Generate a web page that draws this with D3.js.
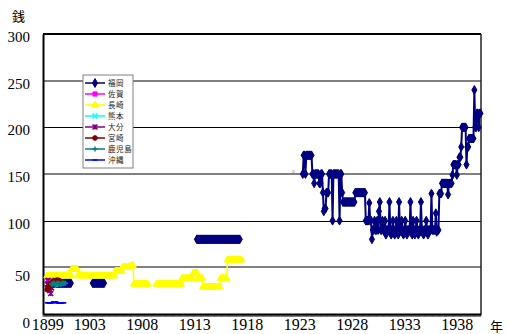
<!DOCTYPE html>
<html><head><meta charset="utf-8">
<script src="https://cdn.jsdelivr.net/npm/d3@7"></script>
<style>body{margin:0;background:#fff} svg{display:block}</style>
</head><body><svg id="chart" width="508" height="334"></svg>
<script>
// Axis ticks
const yTicks = [0, 50, 100, 150, 200, 250, 300];
const xTickYears = [1899, 1903, 1908, 1913, 1918, 1923, 1928, 1933, 1938];
const prefectures = ["福岡", "佐賀", "長崎", "熊本", "大分", "宮崎", "鹿児島", "沖縄"];

// Monthly prices (銭); each segment starts at "YYYY-MM" and runs month by month
const fukuoka = [
  {start: "1899-05", values: [33,33,32,33,33,34,33,33,33,33,33,33,33,33,33,33,33,33,33,33,33,33,33,33]},
  {start: "1903-05", values: [33,33,33,33,33,33,33,33,33,33,33,33,33,33]},
  {start: "1913-04", values: [80,80,80,80,80,80,80,80,80,80,80,80,80,80,80,80,80,80,80,80,80,80,80,80,80,
                              80,80,80,80,80,80,80,80,80,80,80,80,80,80,80,80,80,80,80,80,80,80,80,80,80]},
  {start: "1923-05", values: [
    150,170,170,150,170,170,170,170,                 // 1923 (May-Dec)
    170,170,170,150,150,140,150,150,150,150,150,140, // 1924
    140,150,150,130,110,113,113,130,130,130,150,150, // 1925
    150,150,100,150,150,150,150,150,150,150,100,150, // 1926
    150,130,120,120,120,120,120,120,120,120,120,120, // 1927
    120,120,120,120,130,130,130,130,130,130,130,130, // 1928
    130,130,130,130,100,100,100,100,119,100,100,80,  // 1929
    90,90,100,90,90,100,90,110,120,90,90,100,        // 1930
    90,90,100,85,90,90,90,120,90,85,90,100,          // 1931
    90,85,90,100,90,85,120,90,90,100,90,85,          // 1932
    90,100,90,85,90,90,90,120,90,85,100,90,          // 1933
    85,90,100,90,85,90,90,120,90,90,85,90,           // 1934
    90,100,90,85,90,90,90,129,90,90,90,90,           // 1935
    108,88,90,90,129,129,129,140,140,140,140,140,    // 1936
    140,140,128,140,140,140,140,149,160,160,160,160, // 1937
    149,160,160,168,168,179,200,200,200,200,200,160, // 1938
    179,179,188,188,188,188,188,188,240,200,200,215, // 1939
    215,200,215,215]}                                // 1940 (Jan-Apr)
];
const saga = [{start: "1899-01", values: [40,38,36,35,34,33,34,35,36,36,35,34]}];
const nagasaki = [
  {start: "1899-01", values: [
    41,41,41,41,41,41,41,41,41,41,41,41,
    41,41,41,41,41,41,41,41,41,41,41,41,
    41,41,41,41,48,48,48,48,48,48,48,41,
    41,41,41,41,41,41,41,41,41,41,41,41,
    41,41,41,41,41,41,41,41,41,41,41,41,
    41,41,41,41,41,41,41,41,41,41,41,41,
    41,41,41,41,41,41,46,46,46,46,46,46,
    46,46,50,50,50,50,50,50,50,50,51,51,
    51,52,52,32,32,32,32,32,32,32,32,32,
    32,32,32,32,32,32,32,32]},
  {start: "1909-06", values: [
    32,32,32,32,32,32,32,
    32,32,32,32,32,32,32,32,32,32,32,32,
    32,32,32,32,32,32,32,32,32,32,38,38,
    38,38,38,38,38,38,38,38,38,38,38,44,
    44,44,44,44,38,38,38,38,38,38,29,29,
    29,29,29,29,29,29,29,29,29,29,29,29,
    29,29,29,29,29,29,38,38,38,38,38,38,
    38,38,58,58,58,58,58,58,58,58,58,58,
    58,58,58,58,58,58,58]}
];
const kumamoto = [{start: "1899-05", values: [33,33,34,33,33,32,33,33,34,33,33,33,33]}];
const oita = [{start: "1899-01", values: [32,36,30,25,22,28,33,35,34,36,35,34]}];
const miyazaki = [{start: "1899-01", values: [26,28,30,30,32,33,34,34,35,35,36,36,36,36,35,35,34,34]}];
const kagoshima = [{start: "1899-06", values: [32,32,33,33,32,32,33,33,33,32,32,32,33,33,33,33,33]}];
const okinawa = [{start: "1899-01", values: [12,12,12,12,12,12,12,13,13,13,13,12,12,12,12,12,12,12,12,12]}];

const seriesData = [fukuoka, saga, nagasaki, kumamoto, oita, miyazaki, kagoshima, okinawa];
const colors = ["#000080", "#FF00FF", "#FFFF00", "#00FFFF", "#800080", "#800000", "#008080", "#0000FF"];
const markers = ["diamond", "square", "triangle", "x", "star", "circle", "plus", "dash"];

const svg = d3.select("#chart");
const plot = {left: 43, right: 481, top: 34, bottom: 314};

const x = d3.scaleLinear().domain([1898.6, 1940.3]).range([plot.left, plot.right]);
const y = d3.scaleLinear().domain([0, 300]).range([plot.bottom, plot.top]);

const serif = "'Liberation Serif', 'Times New Roman', 'DejaVu Serif', serif";
const cjk = "'Noto Sans CJK JP', 'Noto Sans CJK SC', sans-serif";

// gridlines
svg.append("g").selectAll("line")
  .data(yTicks.filter(v => v > 0 && v < 300))
  .join("line")
  .attr("x1", plot.left).attr("x2", plot.right)
  .attr("y1", d => Math.round(y(d)) + (d % 100 === 0 ? 0.5 : 0))
  .attr("y2", d => Math.round(y(d)) + (d % 100 === 0 ? 0.5 : 0))
  .attr("stroke", d => d % 100 === 0 ? "#000" : "#808080")
  .attr("stroke-width", d => d % 100 === 0 ? 1 : 2);

// plot frame
svg.append("line").attr("x1", plot.left).attr("x2", plot.right).attr("y1", plot.top).attr("y2", plot.top)
  .attr("stroke", "#000").attr("stroke-width", 2);
svg.append("line").attr("x1", plot.right).attr("x2", plot.right).attr("y1", plot.top).attr("y2", plot.bottom)
  .attr("stroke", "#222").attr("stroke-width", 1.5);

// y axis
const yAxis = svg.append("g").attr("transform", `translate(${plot.left},0)`)
  .call(d3.axisLeft(y).tickValues(yTicks).tickSize(0).tickPadding(13));
yAxis.select(".domain").attr("stroke", "#000").attr("stroke-width", 2);
yAxis.selectAll("text")
  .style("font-family", serif).style("font-size", "15px").attr("fill", "#000")
  .attr("dy", d => (d < 100 ? 13.5 : 7.5) + "px");

// x axis: one small tick per month
const monthTicks = d3.range(1898.6, 1940.3, 1 / 12);
svg.append("g").selectAll("line").data(monthTicks).join("line")
  .attr("x1", d => x(d)).attr("x2", d => x(d))
  .attr("y1", plot.bottom).attr("y2", plot.bottom + 3)
  .attr("stroke", "#000").attr("stroke-width", 0.5);
const xAxis = svg.append("g").attr("transform", `translate(0,${plot.bottom})`)
  .call(d3.axisBottom(x).tickValues(xTickYears).tickSize(0).tickPadding(5).tickFormat(d3.format("d")));
xAxis.select(".domain").attr("stroke", "#000").attr("stroke-width", 2);
xAxis.selectAll("text").style("font-family", serif).style("font-size", "16px").attr("fill", "#000");

// unit labels
svg.append("text").attr("x", 12).attr("y", 21).text("銭")
  .style("font-family", cjk).style("font-size", "13px").attr("fill", "#000");
svg.append("text").attr("x", 490).attr("y", 331).text("年")
  .style("font-family", cjk).style("font-size", "13px").attr("fill", "#000");
svg.append("text").attr("x", 292).attr("y", 173).text("a")
  .style("font-family", serif).style("font-size", "6px").attr("fill", "#888");

// markers
function drawMarker(g, type, color, s) {
  if (type === "diamond") g.append("path").attr("d", d3.symbol(d3.symbolDiamond, s * s * 0.9)()).attr("fill", color).attr("stroke", color);
  else if (type === "square") g.append("path").attr("d", d3.symbol(d3.symbolSquare, s * s * 0.7)()).attr("fill", color).attr("stroke", color);
  else if (type === "triangle") g.append("path").attr("d", d3.symbol(d3.symbolTriangle, s * s * 0.8)()).attr("fill", color).attr("stroke", color);
  else if (type === "circle") g.append("path").attr("d", d3.symbol(d3.symbolCircle, s * s * 0.7)()).attr("fill", color).attr("stroke", color);
  else if (type === "x") g.append("path").attr("d", `M${-s/2},${-s/2}L${s/2},${s/2}M${-s/2},${s/2}L${s/2},${-s/2}`).attr("stroke", color).attr("stroke-width", 1.5);
  else if (type === "star") g.append("path").attr("d", `M${-s/2},${-s/2}L${s/2},${s/2}M${-s/2},${s/2}L${s/2},${-s/2}M0,${-s/2}L0,${s/2}`).attr("stroke", color).attr("stroke-width", 1.5);
  else if (type === "plus") g.append("path").attr("d", `M${-s/2},0L${s/2},0M0,${-s/2}L0,${s/2}`).attr("stroke", color).attr("stroke-width", 1.5);
  else if (type === "dash") g.append("path").attr("d", `M${-s/2},0L${s/2},0`).attr("stroke", color).attr("stroke-width", 1.5);
}

function toPoints(segment) {
  const [yr, mo] = segment.start.split("-").map(Number);
  return segment.values.map((v, i) => ({t: yr + (mo - 1 + i) / 12, v}));
}

const line = d3.line().x(d => x(d.t)).y(d => y(d.v));
const marks = svg.append("g");
seriesData.forEach((segments, si) => {
  const g = marks.append("g");
  segments.forEach(seg => {
    const pts = toPoints(seg);
    g.append("path").attr("d", line(pts)).attr("fill", "none")
      .attr("stroke", colors[si]).attr("stroke-width", si === 0 ? 2 : 1.5);
    pts.forEach(p => {
      const mg = g.append("g").attr("transform", `translate(${x(p.t)},${y(p.v)})`);
      drawMarker(mg, markers[si], colors[si], 5);
    });
  });
});

// legend
const lg = svg.append("g").attr("transform", "translate(83,75)");
lg.append("rect").attr("x", 0).attr("y", 0).attr("width", 50).attr("height", 93)
  .attr("fill", "#fff").attr("stroke", "#808080").attr("stroke-width", 1);
prefectures.forEach((name, i) => {
  const yy = 8 + i * 11;
  lg.append("line").attr("x1", 2).attr("x2", 22).attr("y1", yy).attr("y2", yy)
    .attr("stroke", colors[i]).attr("stroke-width", 1.5);
  const mg = lg.append("g").attr("transform", `translate(12,${yy})`);
  drawMarker(mg, markers[i], colors[i], 5);
  lg.append("text").attr("x", 25).attr("y", yy + 3).text(name)
    .style("font-family", cjk).style("font-size", "7.5px").style("letter-spacing", "0.6px")
    .attr("fill", "#222");
});
</script></body></html>
